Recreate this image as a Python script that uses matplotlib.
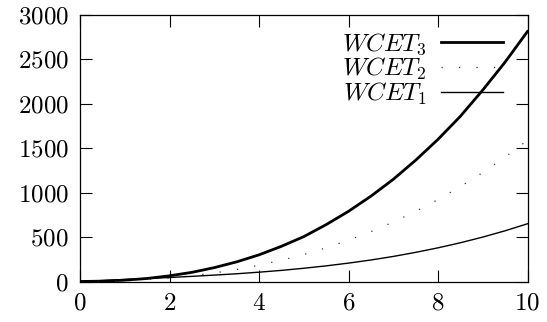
import matplotlib
matplotlib.use("Agg")
import matplotlib.pyplot as plt

plt.rcParams['mathtext.fontset'] = 'cm'
plt.rcParams['font.family'] = ['cmr10', 'DejaVu Serif']
plt.rcParams['axes.formatter.use_mathtext'] = True

# values
x_vals = [0, 0.5, 1, 1.5, 2, 2.5, 3, 3.5, 4, 4.5, 5, 5.5, 6, 6.5, 7, 7.5, 8, 8.5, 9, 9.5, 10]
wcet3 = [0, 4, 15, 34, 64, 103, 156, 221, 300, 396, 505, 640, 790, 960, 1150, 1365, 1600, 1860, 2155, 2470, 2815]
wcet2 = [0, 2, 9, 22, 40, 64, 96, 135, 183, 239, 304, 379, 465, 561, 669, 789, 922, 1068, 1227, 1401, 1590]
wcet1 = [0, 11, 23, 34, 45, 58, 72, 87, 105, 125, 149, 176, 207, 242, 282, 328, 379, 436, 500, 571, 650]

x_ticks = [0, 2, 4, 6, 8, 10]
y_ticks = [0, 500, 1000, 1500, 2000, 2500, 3000]

fig = plt.figure(figsize=(5.47, 3.22), dpi=100)
ax = fig.add_axes([80 / 547, 1 - 281.5 / 322, 447.5 / 547, 266.5 / 322])

ax.plot(x_vals, wcet3, color='black', lw=2.0, label=r'$WCET_3$')
ax.plot(x_vals, wcet2, color='#333333', lw=0.9, linestyle=(0, (1, 13)), label=r'$WCET_2$')
ax.plot(x_vals, wcet1, color='black', lw=1.0, label=r'$WCET_1$')

ax.set_xlim(0, 10)
ax.set_ylim(0, 3000)
ax.set_xticks(x_ticks)
ax.set_yticks(y_ticks)
ax.set_xticklabels([f'${t}$' for t in x_ticks])
ax.set_yticklabels([f'${t}$' for t in y_ticks])
ax.tick_params(direction='in', length=8.5, width=0.8, top=True, right=True,
               labelsize=18, pad=8)
for s in ax.spines.values():
    s.set_linewidth(0.9)

leg = ax.legend(loc='upper right', bbox_to_anchor=(503 / 547, 1 - 31 / 322),
                bbox_transform=fig.transFigure, frameon=False, markerfirst=False,
                fontsize=18, handlelength=2.5, handletextpad=0.55,
                labelspacing=-0.05, borderpad=0, borderaxespad=0)

fig.savefig('out.png', dpi=100)
